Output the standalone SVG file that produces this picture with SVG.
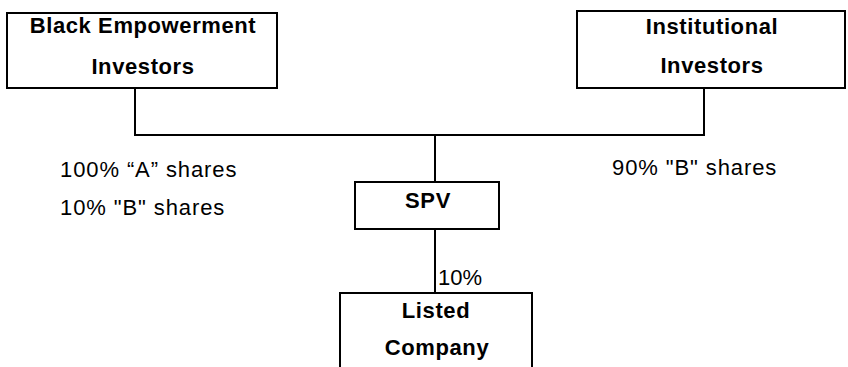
<svg xmlns="http://www.w3.org/2000/svg" width="848" height="367" viewBox="0 0 848 367">
<style>
.box{fill:#fff;stroke:#000;stroke-width:2}
.ln{fill:none;stroke:#000;stroke-width:2}
.b{font-family:"Liberation Sans",Arial,sans-serif;font-weight:bold;font-size:22px;letter-spacing:0.6px;text-anchor:middle;fill:#000}
.r{font-family:"Liberation Sans",Arial,sans-serif;font-size:22px;letter-spacing:0.9px;fill:#000}
</style>
<rect width="848" height="367" fill="#fff"/>
<g id="connectors">
<polyline class="ln" points="135,88 135,135 704,135 704,88"/>
<line class="ln" x1="435" y1="135" x2="435" y2="182"/>
<line class="ln" x1="435" y1="229" x2="435" y2="293"/>
</g>
<g id="black-empowerment">
<rect class="box" x="7" y="13" width="270" height="75"/>
<text class="b" x="143" y="33">Black Empowerment</text>
<text class="b" x="143" y="74">Investors</text>
</g>
<g id="institutional">
<rect class="box" x="577" y="11" width="268" height="77"/>
<text class="b" x="712" y="34">Institutional</text>
<text class="b" x="712" y="73">Investors</text>
</g>
<g id="spv">
<rect class="box" x="355" y="182" width="144" height="47"/>
<text class="b" x="428" y="208">SPV</text>
</g>
<g id="listed">
<rect class="box" x="340" y="293" width="192" height="80"/>
<text class="b" x="436" y="318">Listed</text>
<text class="b" x="437" y="355">Company</text>
</g>
<g id="labels">
<text class="r" x="60" y="177">100% “A” shares</text>
<text class="r" x="60" y="215">10% "B" shares</text>
<text class="r" x="612" y="175">90% "B" shares</text>
<text class="r" x="438" y="285" style="letter-spacing:0">10%</text>
</g>
</svg>
